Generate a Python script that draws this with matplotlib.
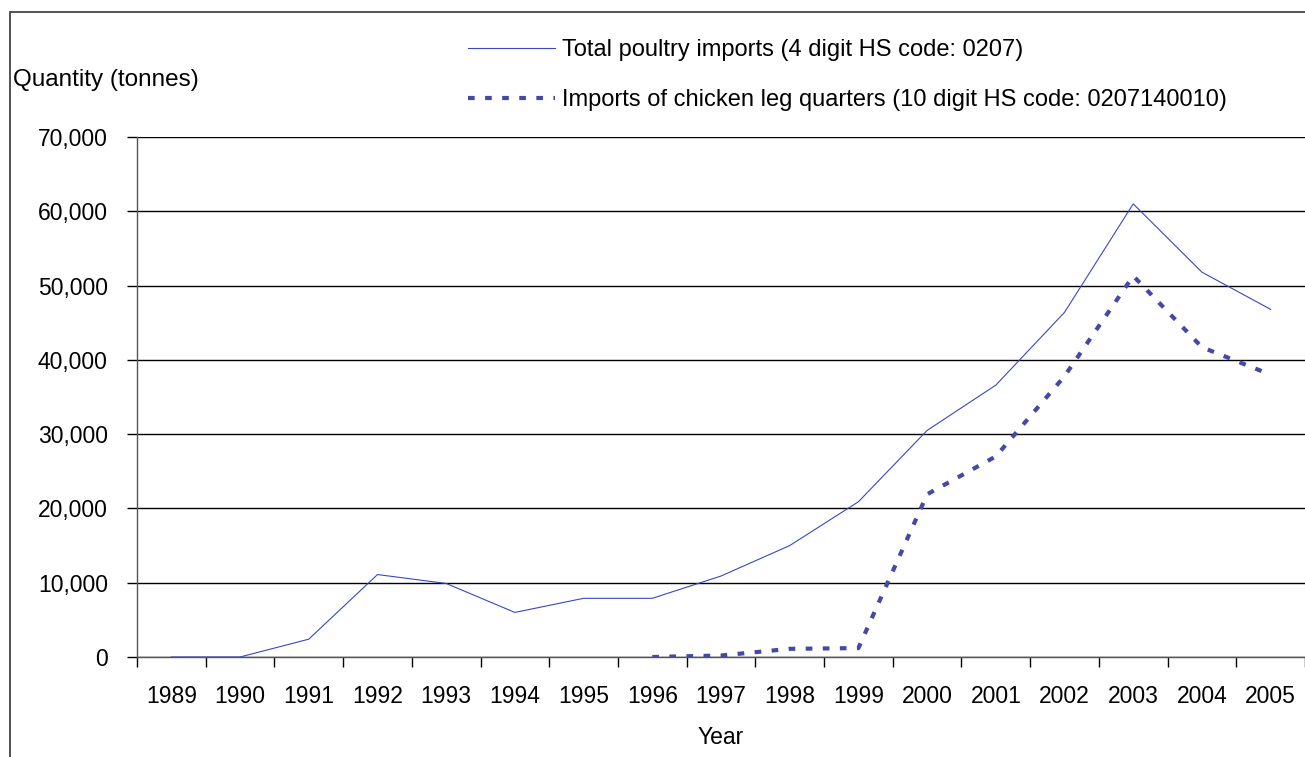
import numpy as np
import matplotlib
matplotlib.use("Agg")
import matplotlib.pyplot as plt
from matplotlib.patches import Rectangle
from matplotlib.ticker import FuncFormatter

years = ['1989', '1990', '1991', '1992', '1993', '1994', '1995', '1996', '1997',
         '1998', '1999', '2000', '2001', '2002', '2003', '2004', '2005']
total_poultry = [0, 0, 2400, 11100, 9900, 6000, 7900, 7900, 10900,
                 15000, 20900, 30500, 36600, 46400, 61000, 51800, 46800]
# leg quarters series only starts in 1996
leg_quarters = [np.nan] * 7 + [0, 200, 1100, 1200, 21900, 27000, 37800, 51300, 41700, 38000]
yticks = [0, 10000, 20000, 30000, 40000, 50000, 60000, 70000]

plt.rcParams['font.family'] = ['Liberation Sans', 'DejaVu Sans']

W, H = 1305, 757
fig = plt.figure(figsize=(W / 100, H / 100), dpi=100)

# outer chart frame (right/bottom edges run off the picture)
fig.patches.append(Rectangle((10 / W, -0.1), 1.2, (H - 12) / H + 0.1, transform=fig.transFigure,
                             fill=False, edgecolor='#444444', linewidth=1.3))

ax = fig.add_axes([137 / W, 1 - 657 / H, 1168 / W, 520 / H])
x = np.arange(len(years))

ax.plot(x, total_poultry, color='#3a48c0', linewidth=0.8, label='Total poultry imports (4 digit HS code: 0207)')
ax.plot(x, leg_quarters, color='#4448a8', linewidth=3.0, linestyle=(0, (1.6, 2.5)),
        dash_capstyle='butt', label='Imports of chicken leg quarters (10 digit HS code: 0207140010)')

ax.set_xlim(-0.5, len(years) - 0.5)
ax.set_ylim(0, 70000)
ax.set_yticks(yticks)
ax.yaxis.set_major_formatter(FuncFormatter(lambda v, p: '{:,.0f}'.format(v)))
ax.grid(axis='y', color='black', linewidth=1.0)
ax.set_axisbelow(True)

ax.set_xticks(x)
ax.set_xticklabels(years)
ax.set_xticks(np.arange(-0.5, len(years)), minor=True)
ax.tick_params(axis='x', which='major', length=0, pad=20, labelsize=16.5)
ax.tick_params(axis='x', which='minor', length=7, width=1, direction='out')
ax.tick_params(axis='y', length=7, width=1, pad=14, labelsize=16.5)

for s in ['top', 'right']:
    ax.spines[s].set_visible(False)
for s in ['left', 'bottom']:
    ax.spines[s].set_color('#555555')
    ax.spines[s].set_linewidth(1.0)

fig.text(721 / W, 1 - 738 / H, 'Year', ha='center', va='center', fontsize=16.5)
fig.text(13 / W, 1 - 80 / H, 'Quantity (tonnes)', ha='left', va='center', fontsize=17.5)

leg = fig.legend(loc='upper left', bbox_to_anchor=(468 / W, 1 - 39 / H), frameon=False,
                 fontsize=17, handlelength=3.7, handletextpad=0.3, labelspacing=1.2,
                 borderpad=0, borderaxespad=0)

fig.savefig('out.png', dpi=100)
